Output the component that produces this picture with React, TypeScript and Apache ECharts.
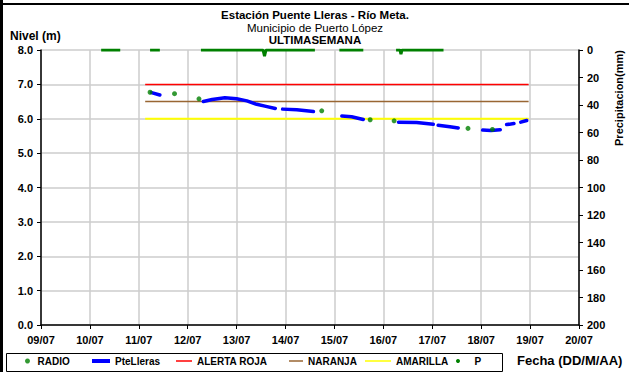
import React, { useEffect, useRef } from 'react';
import * as echarts from 'echarts';

const FONT = '"Liberation Sans", Arial, sans-serif';

// Day-of-July values on the x axis
const xTickLabels = ['09/07', '10/07', '11/07', '12/07', '13/07', '14/07', '15/07', '16/07', '17/07', '18/07', '19/07', '20/07'];

// RADIO readings (day, level m)
const radio: number[][] = [
  [11.23, 6.77], [11.73, 6.73], [12.23, 6.58], [14.74, 6.23],
  [15.73, 5.97], [16.22, 5.94], [17.73, 5.72], [18.23, 5.69],
];

// PteLleras telemetry, in continuous segments (day, level m)
const pteSegments: number[][][] = [
  [[11.26, 6.76], [11.43, 6.69]],
  [[12.32, 6.50], [12.5, 6.56], [12.76, 6.61], [13.0, 6.58], [13.21, 6.52], [13.41, 6.42], [13.6, 6.36], [13.79, 6.30]],
  [[13.94, 6.28], [14.23, 6.26], [14.57, 6.21]],
  [[15.15, 6.08], [15.35, 6.06], [15.59, 5.98]],
  [[16.31, 5.90], [16.68, 5.89], [17.02, 5.84]],
  [[17.12, 5.81], [17.36, 5.77], [17.53, 5.73]],
  [[18.03, 5.67], [18.2, 5.66], [18.39, 5.68]],
  [[18.52, 5.83], [18.67, 5.86]],
  [[18.81, 5.90], [18.93, 5.95]],
];

// Alert thresholds (day, level m)
const alertaRoja: number[][] = [[11.13, 7.0], [18.97, 7.0]];
const naranja: number[][] = [[11.13, 6.5], [18.97, 6.5]];
const amarilla: number[][] = [[11.13, 6.0], [18.97, 6.0]];

// Precipitation P, in segments (day, mm)
const pSegments: number[][][] = [
  [[10.23, 0], [10.62, 0]],
  [[11.23, 0], [11.43, 0]],
  [[12.27, 0], [13.54, 0], [13.57, 4.5], [13.6, 0], [14.6, 0]],
  [[15.1, 0], [15.59, 0]],
  [[16.26, 0], [16.34, 0], [16.36, 3], [16.38, 0], [17.23, 0]],
];

const joinSegments = (segs: number[][][]) => {
  const out: (number | null)[][] = [];
  segs.forEach((s, i) => {
    if (i > 0) out.push([s[0][0] - 0.01, null]);
    s.forEach((p) => out.push(p));
  });
  return out;
};

export default function App() {
  const ref = useRef<HTMLDivElement>(null);
  useEffect(() => {
    const chart = echarts.init(ref.current!, null, { renderer: 'svg' });
    const bold = { fontFamily: FONT, fontWeight: 'bold' as const, color: '#000' };
    const legendBase = {
      top: 356,
      padding: 0,
      selectedMode: false,
      textStyle: { ...bold, fontSize: 10 },
    };
    chart.setOption({
      animation: false,
      backgroundColor: '#fff',
      grid: { left: 41, right: 50, top: 50, bottom: 47, containLabel: false },
      xAxis: {
        type: 'value', min: 9, max: 20, interval: 1,
        axisLine: { show: true, lineStyle: { color: '#000', width: 1.5 } },
        axisTick: { show: true, length: 4, lineStyle: { color: '#000' } },
        axisLabel: { ...bold, fontSize: 11, margin: 9, formatter: (v: number) => xTickLabels[Math.round(v) - 9] },
        splitLine: { show: true, lineStyle: { color: '#cccccc', width: 1.5 } },
      },
      yAxis: [
        {
          type: 'value', min: 0, max: 8, interval: 1,
          axisLine: { show: true, lineStyle: { color: '#000', width: 1.5 } },
          axisTick: { show: true, length: 4, lineStyle: { color: '#000' } },
          axisLabel: { ...bold, fontSize: 11, margin: 8, formatter: (v: number) => v.toFixed(1) },
          splitLine: { show: true, lineStyle: { color: '#cccccc', width: 1.5 } },
        },
        {
          type: 'value', min: 0, max: 200, interval: 20, inverse: true, position: 'right',
          axisLine: { show: true, lineStyle: { color: '#000', width: 1.5 } },
          axisTick: { show: true, length: 4, lineStyle: { color: '#000' } },
          axisLabel: { ...bold, fontSize: 11, margin: 8 },
          splitLine: { show: false },
        },
      ],
      legend: [
        { ...legendBase, left: 25, itemWidth: 10, itemHeight: 5, icon: 'circle', data: ['RADIO'] },
        { ...legendBase, left: 92, itemWidth: 18, itemHeight: 4, icon: 'rect', data: ['PteLleras'] },
        { ...legendBase, left: 176, itemWidth: 16, itemHeight: 1.5, icon: 'rect', data: ['ALERTA ROJA'] },
        { ...legendBase, left: 289, itemWidth: 14, itemHeight: 1.5, icon: 'rect', data: ['NARANJA'] },
        { ...legendBase, left: 365, itemWidth: 26, itemHeight: 1.5, icon: 'rect', data: ['AMARILLA'] },
        { ...legendBase, left: 456, itemWidth: 23, itemHeight: 4, icon: 'circle', data: ['P'] },
      ],
      graphic: [
        { type: 'rect', shape: { x: 0, y: 0, width: 3, height: 372 }, style: { fill: '#000' } },
        { type: 'rect', shape: { x: 0, y: 3, width: 629, height: 2 }, style: { fill: '#000' } },
        { type: 'rect', shape: { x: 6.5, y: 353.5, width: 496, height: 18 }, style: { fill: 'none', stroke: '#000', lineWidth: 1 } },
        { type: 'text', x: 315, y: 15, style: { text: 'Estación Puente Lleras - Río Meta.', font: `bold 11.5px ${FONT}`, fill: '#000', textAlign: 'center', textVerticalAlign: 'middle' } },
        { type: 'text', x: 315, y: 27.5, style: { text: 'Municipio de Puerto López', font: `11.5px ${FONT}`, fill: '#000', textAlign: 'center', textVerticalAlign: 'middle' } },
        { type: 'text', x: 315, y: 40, style: { text: 'ULTIMASEMANA', font: `bold 11.5px ${FONT}`, fill: '#000', textAlign: 'center', textVerticalAlign: 'middle' } },
        { type: 'text', x: 10, y: 36, style: { text: 'Nivel (m)', font: `bold 12px ${FONT}`, fill: '#000', textAlign: 'left', textVerticalAlign: 'middle' } },
        { type: 'text', x: 619, y: 98, rotation: Math.PI / 2, style: { text: 'Precipitacion(mm)', font: `bold 11px ${FONT}`, fill: '#000', textAlign: 'center', textVerticalAlign: 'middle' } },
        { type: 'text', x: 517, y: 360, style: { text: 'Fecha (DD/M/AA)', font: `bold 13px ${FONT}`, fill: '#000', textAlign: 'left', textVerticalAlign: 'middle' } },
      ],
      series: [
        {
          name: 'P', type: 'line', yAxisIndex: 1, data: joinSegments(pSegments),
          showSymbol: false, connectNulls: false, z: 3,
          itemStyle: { color: '#008000' }, lineStyle: { color: '#008000', width: 3 },
        },
        {
          name: 'ALERTA ROJA', type: 'line', data: alertaRoja, showSymbol: false, z: 2,
          itemStyle: { color: '#ff0000' }, lineStyle: { color: '#ff0000', width: 1.5 },
        },
        {
          name: 'NARANJA', type: 'line', data: naranja, showSymbol: false, z: 2,
          itemStyle: { color: '#996633' }, lineStyle: { color: '#996633', width: 1.5 },
        },
        {
          name: 'AMARILLA', type: 'line', data: amarilla, showSymbol: false, z: 2,
          itemStyle: { color: '#ffff00' }, lineStyle: { color: '#ffff00', width: 2 },
        },
        {
          name: 'PteLleras', type: 'line', data: joinSegments(pteSegments), showSymbol: false,
          connectNulls: false, z: 4,
          itemStyle: { color: '#0000ff' }, lineStyle: { color: '#0000ff', width: 3.5, cap: 'round', join: 'round' },
        },
        {
          name: 'RADIO', type: 'scatter', data: radio, symbol: 'circle', symbolSize: 5, z: 5,
          itemStyle: { color: '#008000' },
        },
      ],
    });
    return () => chart.dispose();
  }, []);
  return <div ref={ref} style={{ position: 'fixed', left: 0, top: 0, width: 629, height: 372 }} />;
}
